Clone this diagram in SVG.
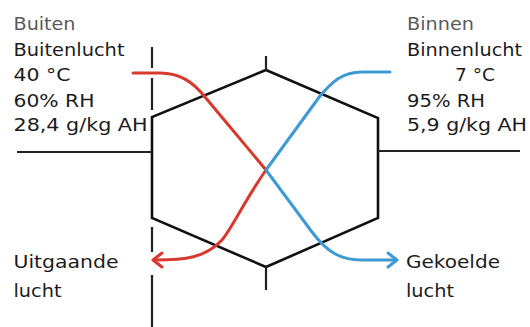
<svg xmlns="http://www.w3.org/2000/svg" width="530" height="327" viewBox="0 0 530 327">
<style>
text{font-family:"DejaVu Sans","Noto Sans",sans-serif;font-size:18.5px;fill:#1c1c1c}
.gray{fill:#5a5a5a}
.hex{fill:none;stroke:#111;stroke-width:2.6;stroke-linejoin:miter}
.ln{stroke:#222;stroke-width:2.2;fill:none}
.red{fill:none;stroke:#d8382e;stroke-width:3;stroke-linecap:round;stroke-linejoin:round}
.blue{fill:none;stroke:#3d9ad3;stroke-width:3;stroke-linecap:round;stroke-linejoin:round}
</style>
<rect width="530" height="327" fill="#fff"/>
<g id="exchanger">
<polygon class="hex" points="266,70 378,118 378,218 266,267 152,218 152,117"/>
<line class="ln" x1="266" y1="56" x2="266" y2="70"/>
<line class="ln" x1="266" y1="267" x2="266" y2="290"/>
<line class="ln" x1="17" y1="152" x2="152" y2="152"/>
<line class="ln" x1="378" y1="151" x2="520" y2="151"/>
</g>
<g id="boundary">
<line class="ln" x1="152" y1="47" x2="152" y2="68"/>
<line class="ln" x1="152" y1="78" x2="152" y2="110"/>
<line class="ln" x1="152" y1="227" x2="152" y2="252"/>
<line class="ln" x1="152" y1="275" x2="152" y2="327"/>
</g>
<g id="connectors">
<path class="red" d="M133,73 L160,73 C180,73 193,82 205,97 L266,170 C245,200 232,228 222,240 C205,258 185,260 155,260"/>
<path class="red" d="M162,253 L153,260 L162,267"/>
<path class="blue" d="M390,72 L362,72 C342,72 332,82 320,96 L266,170 L312,232 C327,252 340,260 362,260 L396,260"/>
<path class="blue" d="M388,253 L397,260 L388,267"/>
</g>
<g id="outside">
<text class="gray" x="13.5" y="30" textLength="62" lengthAdjust="spacingAndGlyphs">Buiten</text>
<text x="13.5" y="55.5" textLength="111" lengthAdjust="spacingAndGlyphs">Buitenlucht</text>
<text x="13.5" y="81" textLength="57" lengthAdjust="spacingAndGlyphs">40 °C</text>
<text x="13.5" y="106.5" textLength="81" lengthAdjust="spacingAndGlyphs">60% RH</text>
<text x="13.5" y="131" textLength="134" lengthAdjust="spacingAndGlyphs">28,4 g/kg AH</text>
</g>
<g id="inside">
<text class="gray" x="407" y="30" textLength="67" lengthAdjust="spacingAndGlyphs">Binnen</text>
<text x="407" y="55.5" textLength="115" lengthAdjust="spacingAndGlyphs">Binnenlucht</text>
<text x="455" y="81" textLength="40" lengthAdjust="spacingAndGlyphs">7 °C</text>
<text x="407" y="106.5" textLength="78" lengthAdjust="spacingAndGlyphs">95% RH</text>
<text x="407" y="131" textLength="120" lengthAdjust="spacingAndGlyphs">5,9 g/kg AH</text>
</g>
<g id="exhaust">
<text x="13.5" y="268" textLength="105" lengthAdjust="spacingAndGlyphs">Uitgaande</text>
<text x="13.5" y="297" textLength="48" lengthAdjust="spacingAndGlyphs">lucht</text>
</g>
<g id="cooled">
<text x="406" y="268" textLength="94" lengthAdjust="spacingAndGlyphs">Gekoelde</text>
<text x="406" y="297" textLength="48" lengthAdjust="spacingAndGlyphs">lucht</text>
</g>
</svg>
